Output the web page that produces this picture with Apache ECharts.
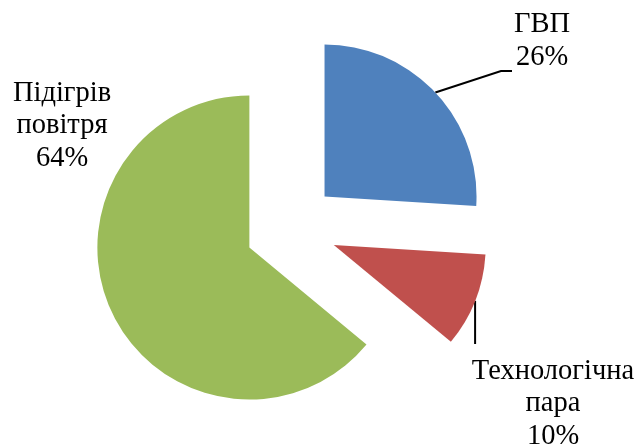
<!DOCTYPE html>
<html>
<head>
<meta charset="utf-8">
<script src="https://cdn.jsdelivr.net/npm/echarts@6/dist/echarts.min.js"></script>
<style>
  html, body { margin: 0; padding: 0; background: #ffffff; }
  #chart { width: 637px; height: 444px; }
</style>
</head>
<body>
<div id="chart"></div>
<script>
// Heat demand structure by consumer type
const categories = ['ГВП', 'Технологічна пара', 'Підігрів повітря'];
const shares = [26, 10, 64];
const sliceColors = ['#4F81BD', '#C0504D', '#9BBB59'];

// Pie geometry: common centre, radius and how far each slice is pulled out
const pieCenter = [291, 228];
const pieRadius = 152;
const explodeDist = 46;

// Where each label block is centred
const labelCenters = [[542, 41], [553, 404], [62, 126]];

const chart = echarts.init(document.getElementById('chart'), null, { renderer: 'canvas' });

const total = shares.reduce(function (a, b) { return a + b; }, 0);

function leaderPoints(k, s) {
  if (k === 0) return [s, [501, 71], [512, 71]];
  if (k === 1) return [s, [s[0], 344], [s[0], 344]];
  return null;
}

// One pie series per slice so every slice can be pulled out along its own bisector;
// the other slices of that series are left transparent.
let acc = 0;
const seriesList = categories.map(function (cat, k) {
  const mid = (acc + shares[k] / 2) / total * Math.PI * 2;
  acc += shares[k];
  const cx = pieCenter[0] + explodeDist * Math.sin(mid);
  const cy = pieCenter[1] - explodeDist * Math.cos(mid);
  return {
    type: 'pie',
    center: [cx, cy],
    radius: [0, pieRadius],
    startAngle: 90,
    clockwise: true,
    avoidLabelOverlap: false,
    silent: true,
    itemStyle: { borderWidth: 0 },
    emphasis: { scale: false },
    data: categories.map(function (name, i) {
      return {
        name: name,
        value: shares[i],
        itemStyle: { color: i === k ? sliceColors[i] : 'rgba(0,0,0,0)' },
        label: { show: i === k },
        labelLine: { show: i === k && k !== 2 }
      };
    }),
    label: {
      position: 'outside',
      color: '#000000',
      fontFamily: 'Liberation Serif',
      fontSize: 28.5,
      lineHeight: 32.5,
      align: 'center',
      formatter: function (p) {
        return p.name.replace(' ', '\n') + '\n' + Math.round(p.percent) + '%';
      }
    },
    labelLine: {
      length: 20,
      length2: 10,
      lineStyle: { color: '#000000', width: 2 }
    },
    labelLayout: function (params) {
      const c = labelCenters[params.dataIndex];
      const out = { x: c[0], y: c[1], align: 'center', verticalAlign: 'middle' };
      const pts = params.labelLinePoints;
      if (pts && pts[0]) {
        const lp = leaderPoints(params.dataIndex, pts[0]);
        if (lp) out.labelLinePoints = lp;
      }
      return out;
    }
  };
});

chart.setOption({
  animation: false,
  backgroundColor: '#ffffff',
  series: seriesList
});
</script>
</body>
</html>
